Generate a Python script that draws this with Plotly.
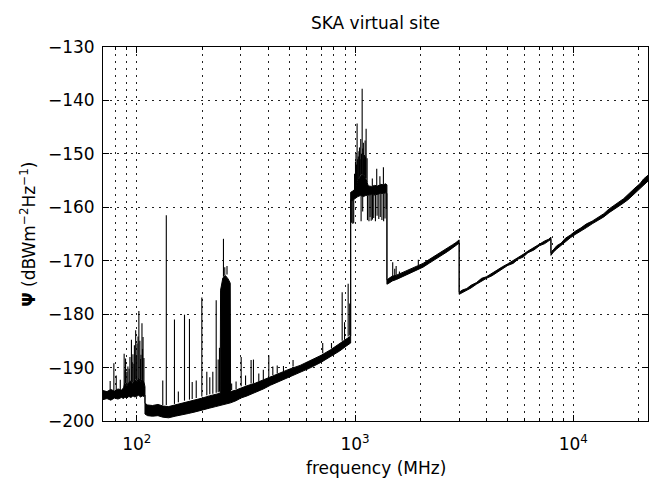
import numpy as np
import plotly.graph_objects as go

# ---------------- data ----------------
# noise-band envelopes (dBW m^-2 Hz^-1) by frequency segment (MHz)
fm_freq = [70, 73, 76, 79, 82, 85, 87, 88, 90, 92, 94, 96, 98, 100, 102, 104, 106, 108, 109]
fm_low = [-196.0, -195.8, -196.1, -195.7, -195.9, -195.6, -195.8, -195.5, -195.7, -195.4,
          -195.6, -195.3, -195.5, -195.4, -195.2, -195.5, -195.3, -195.4, -195.2]
fm_high = [-194.3, -194.5, -194.1, -194.4, -194.0, -194.2, -193.8, -193.0, -193.4, -192.8,
           -192.5, -193.0, -192.2, -192.7, -192.0, -192.6, -192.3, -192.8, -193.6]

vhf_freq = [109, 112, 118, 125, 132, 140, 150, 160, 172, 185, 200, 215, 230, 241, 242, 248,
            255, 262, 268, 269, 285, 300, 320, 350, 380, 410, 450, 500, 560, 620, 700, 770,
            850, 910, 955]
vhf_low = [-198.7, -199.0, -199.1, -199.0, -199.3, -199.4, -199.1, -198.8, -198.6, -198.3,
           -198.0, -197.6, -197.3, -197.1, -197.1, -197.0, -196.9, -196.8, -196.6, -196.6,
           -196.2, -195.7, -195.3, -194.7, -194.0, -193.3, -192.6, -191.7, -190.9, -190.1,
           -189.0, -188.0, -186.9, -186.0, -185.4]
vhf_high = [-196.7, -197.0, -197.1, -196.9, -197.2, -197.3, -197.0, -196.6, -196.4, -196.1,
            -195.7, -195.3, -195.0, -194.8, -175.5, -173.2, -172.8, -173.4, -174.2, -194.5,
            -194.2, -193.8, -193.4, -192.9, -192.3, -191.7, -191.1, -190.3, -189.6, -188.8,
            -187.7, -186.7, -185.5, -184.7, -184.1]

blk_freq = [955, 970, 990, 1010, 1030, 1060, 1090, 1120, 1150, 1190, 1230, 1270, 1310, 1350,
            1380, 1400]
blk_low = [-158.6, -158.8, -158.5, -158.2, -158.0, -157.8, -158.0, -157.8, -157.7, -157.6,
           -157.7, -157.5, -157.4, -157.4, -157.3, -157.4]
blk_high = [-157.2, -157.0, -156.8, -156.0, -155.0, -154.2, -153.8, -154.6, -156.0, -156.1,
            -155.9, -156.0, -155.7, -155.8, -155.6, -155.8]

l_freq = [1400, 1430, 1480, 1550, 1650, 1750, 1850, 1950, 2050, 2200, 2350, 2500, 2650, 2800,
          2900, 3000]
l_low = [-174.4, -174.2, -173.8, -173.5, -173.0, -172.5, -172.1, -171.6, -171.2, -170.4,
         -169.7, -169.0, -168.3, -167.6, -167.2, -166.7]
l_high = [-173.6, -173.3, -172.9, -172.7, -172.2, -171.8, -171.3, -170.9, -170.5, -169.7,
          -169.0, -168.3, -167.7, -167.0, -166.6, -166.1]

s_freq = [3000, 3100, 3250, 3400, 3600, 3800, 4000, 4250, 4500, 4750, 5000, 5300, 5600, 5900,
          6200, 6600, 7000, 7400, 7700, 7900]
s_low = [-176.3, -176.0, -175.5, -175.1, -174.4, -173.8, -173.3, -172.8, -172.1, -171.6,
         -170.9, -170.5, -169.7, -169.3, -168.5, -168.0, -167.2, -166.8, -166.3, -166.0]
s_high = [-175.9, -175.5, -175.2, -174.6, -174.1, -173.3, -173.0, -172.3, -171.8, -171.1,
          -170.6, -170.0, -169.4, -168.8, -168.2, -167.5, -166.9, -166.3, -166.0, -165.6]

x_freq = [7900, 8100, 8400, 8800, 9200, 9700, 10200, 10800, 11500, 12200, 13000, 13800,
          14600, 15400, 16200, 17000, 17800, 18600, 19400, 20200, 21000, 22000]
x_low = [-169.0, -168.4, -167.8, -167.1, -166.4, -165.7, -165.1, -164.4, -163.8, -163.1,
         -162.5, -161.8, -161.0, -160.4, -159.8, -159.2, -158.6, -157.9, -157.2, -156.6,
         -155.8, -155.1]
x_high = [-168.5, -168.0, -167.2, -166.7, -165.8, -165.2, -164.5, -163.9, -163.1, -162.6,
          -161.8, -161.2, -160.3, -159.7, -159.0, -158.4, -157.7, -156.9, -156.2, -155.6,
          -154.7, -154.0]

# narrow-band interference spikes: frequency, band level at its foot, spike level
spike_freq = [75.5, 78.5, 80.5, 84, 87.5, 88.3, 88.8, 90, 91, 92.2, 93, 94.5, 95.3, 96, 97,
              97.5, 98.8, 99.5, 100.2, 101.3, 102.2, 103.3, 104, 104.5, 105.6, 106.2, 106.8,
              107.8,
              131.5, 136.5, 148.8, 155, 165.4, 174.3, 179.4, 187.2, 198.6, 209.3, 216, 223,
              231.1, 236, 239.2, 249.5, 253, 259, 272, 285, 300.8, 315, 334, 342.4, 362.2,
              380, 402.5, 420, 440, 470, 520, 711, 780, 873, 895, 930, 945,
              995, 1005, 1010, 1016, 1022, 1028, 1035, 1042, 1048, 1055, 1062, 1070, 1078,
              1085, 1092, 1098, 1104, 1112, 1118, 1124, 1136, 1200, 1257, 1300, 1349,
              962, 976, 986, 1066, 1084, 1140, 1158, 1172, 1186, 1202, 1218, 1240, 1262,
              1285, 1305, 1328, 1352, 1372, 1390,
              1488, 1520, 1543, 1597, 1950]
spike_base = [-194.5, -194.3, -194.3, -194.1, -193.8, -193.2, -193.0, -193.2, -193.1, -192.9,
              -192.8, -192.5, -192.7, -192.8, -192.5, -192.4, -192.2, -192.4, -192.5, -192.2,
              -192.0, -192.3, -192.5, -192.5, -192.3, -192.4, -192.5, -192.8,
              -197.0, -197.0, -196.8, -196.5, -196.2, -196.0, -195.9, -195.7, -195.4, -195.2,
              -195.0, -194.9, -194.7, -194.6, -194.5, -173.0, -172.8, -172.6, -194.2, -194.0,
              -193.5, -193.3, -193.0, -192.9, -192.6, -192.3, -191.7, -191.4, -191.1, -190.7,
              -189.8, -187.3, -186.4, -185.0, -184.8, -184.2, -184.0,
              -156.8, -156.4, -156.0, -155.7, -155.2, -155.0, -154.8, -154.5, -154.3, -154.2,
              -154.0, -153.9, -153.8, -153.8, -153.8, -154.0, -154.1, -154.3, -154.5, -154.6,
              -155.3, -156.0, -155.9, -155.7, -155.8,
              -158.6, -158.7, -158.5, -157.8, -158.0, -157.8, -157.7, -157.7, -157.6, -157.6,
              -157.7, -157.7, -157.5, -157.5, -157.4, -157.4, -157.4, -157.3, -157.3,
              -173.0, -172.8, -172.7, -172.5, -170.8]
spike_peak = [-192.5, -189.2, -191.5, -192.3, -187.4, -190.5, -188.3, -190.8, -189.8, -190.2,
              -188.0, -184.8, -189.0, -187.5, -189.3, -185.8, -183.0, -187.8, -185.5, -184.2,
              -179.4, -185.0, -188.4, -187.6, -181.7, -186.5, -184.3, -188.2,
              -192.4, -161.5, -181.0, -194.5, -180.1, -180.9, -192.7, -192.4, -176.9, -190.8,
              -191.8, -190.8, -177.4, -188.5, -186.3, -165.9, -171.2, -171.0, -193.0, -192.6,
              -188.0, -191.5, -188.6, -188.5, -191.1, -190.4, -187.7, -189.8, -189.6, -189.7,
              -188.6, -185.4, -185.4, -175.9, -181.5, -174.3, -178.0,
              -153.7, -151.5, -150.0, -152.0, -144.3, -151.0, -150.5, -149.5, -148.8, -151.0,
              -147.2, -150.0, -137.8, -149.0, -147.9, -151.0, -150.2, -147.5, -150.5, -145.3,
              -150.8, -154.6, -152.8, -154.2, -152.5,
              -162.9, -163.1, -163.0, -162.6, -160.8, -162.4, -162.6, -161.8, -162.5, -162.3,
              -162.0, -162.6, -161.6, -162.2, -161.8, -162.4, -162.6, -162.1, -160.3,
              -170.3, -171.5, -171.0, -172.0, -169.8]

# axes
x_range = [70, 22000]
x_major = [100, 1000, 10000]
x_ticktext = ["10<sup>2</sup>", "10<sup>3</sup>", "10<sup>4</sup>"]
x_minor = [70, 80, 90, 200, 300, 400, 500, 600, 700, 800, 900,
           2000, 3000, 4000, 5000, 6000, 7000, 8000, 9000, 20000]
y_range = [-200, -130]
y_ticks = [-200, -190, -180, -170, -160, -150, -140, -130]

# ---------------- figure ----------------
band_freq = fm_freq + vhf_freq + blk_freq + l_freq + s_freq + x_freq
band_low = fm_low + vhf_low + blk_low + l_low + s_low + x_low
band_high = fm_high + vhf_high + blk_high + l_high + s_high + x_high

sx, sy = [], []
for f, b, p in zip(spike_freq, spike_base, spike_peak):
    sx += [f, f, None]
    sy += [b, p, None]

INK = "black"
fig = go.Figure()
fig.add_trace(go.Scatter(x=band_freq, y=band_low, mode="lines",
                         line=dict(color=INK, width=1), hoverinfo="skip"))
fig.add_trace(go.Scatter(x=band_freq, y=band_high, mode="lines", fill="tonexty",
                         fillcolor=INK, line=dict(color=INK, width=1), hoverinfo="skip"))
fig.add_trace(go.Scatter(x=sx, y=sy, mode="lines", connectgaps=False,
                         line=dict(color="#000", width=1.1), hoverinfo="skip"))

FONT = "DejaVu Sans"
GRID = "#222"
DASH = "2px,5px"

fig.update_xaxes(
    type="log", range=[np.log10(x_range[0]), np.log10(x_range[1])],
    tickvals=x_major, ticktext=x_ticktext,
    ticks="inside", ticklen=6, tickcolor=INK, tickwidth=1,
    showline=True, linecolor=INK, linewidth=1, mirror="ticks",
    showgrid=True, gridcolor=GRID, griddash=DASH, gridwidth=1,
    minor=dict(tickvals=x_minor, ticks="inside", ticklen=3, tickcolor=INK,
               showgrid=True, gridcolor=GRID, griddash=DASH, gridwidth=1),
    tickfont=dict(family=FONT, size=17, color=INK),
    ticklabelstandoff=8, zeroline=False, automargin=False,
)
fig.update_yaxes(
    range=y_range, tickvals=y_ticks,
    ticks="inside", ticklen=6, tickcolor=INK, tickwidth=1,
    showline=True, linecolor=INK, linewidth=1, mirror="ticks",
    showgrid=True, gridcolor=GRID, griddash=DASH, gridwidth=1,
    tickfont=dict(family=FONT, size=17, color=INK),
    ticklabelstandoff=4, zeroline=False, automargin=False,
)

fig.update_layout(
    width=649, height=480,
    margin=dict(l=103, r=1, t=47, b=59, autoexpand=False),
    paper_bgcolor="white", plot_bgcolor="white",
    showlegend=False,
    title=dict(text="SKA virtual site", x=0.5, xref="paper", xanchor="center",
               y=1 - 23 / 480, yref="container", yanchor="middle", automargin=False,
               font=dict(family=FONT, size=17, color=INK)),
    annotations=[
        dict(text="frequency (MHz)", x=0.5, xref="paper", y=-0.127, yref="paper",
             xanchor="center", yanchor="middle", showarrow=False,
             font=dict(family=FONT, size=17, color=INK)),
        dict(text="<b>Ψ</b> (dBWm<sup>−2</sup>Hz<sup>−1</sup>)", x=-0.138, xref="paper",
             y=0.5, yref="paper", xanchor="center", yanchor="middle", textangle=-90,
             showarrow=False, font=dict(family=FONT, size=17, color=INK)),
    ],
)

fig.write_html(
    "out.html",
    config={"displayModeBar": False},
    post_script="document.body.style.margin='0';document.body.style.padding='0';",
)
